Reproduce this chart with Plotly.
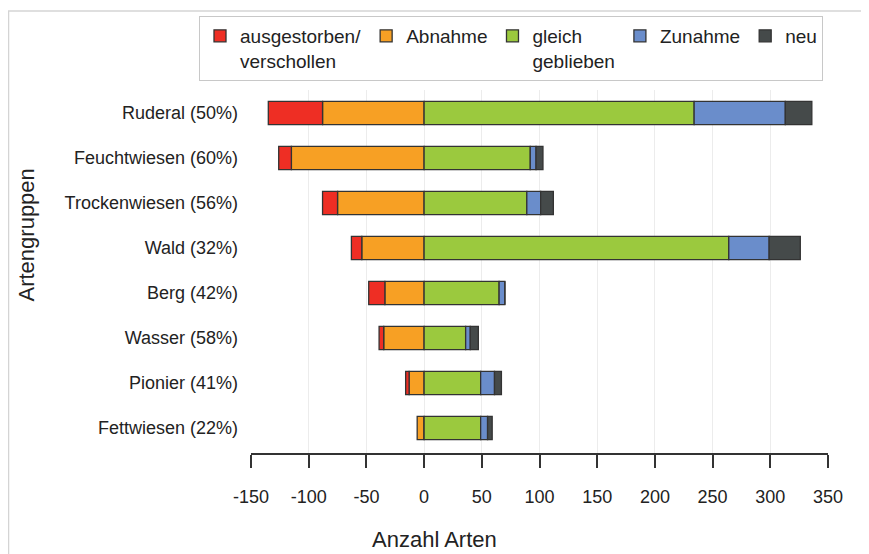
import plotly.graph_objects as go

# Data (top to bottom as shown)
categories = ["Ruderal (50%)", "Feuchtwiesen (60%)", "Trockenwiesen (56%)", "Wald (32%)",
              "Berg (42%)", "Wasser (58%)", "Pionier (41%)", "Fettwiesen (22%)"]
ausgestorben = [47, 11, 13, 9, 14, 4, 3, 0]
abnahme = [88, 115, 75, 54, 34, 35, 13, 6]
gleich = [234, 92, 89, 264, 65, 36, 49, 49]
zunahme = [79, 5, 12, 35, 5, 4, 12, 6]
neu = [23, 6, 11, 27, 0, 7, 6, 4]
x_ticks = [-150, -100, -50, 0, 50, 100, 150, 200, 250, 300, 350]

FONT = "Liberation Sans, Arial, sans-serif"
LINE = dict(color="#333333", width=1.3)

fig = go.Figure()
# order of traces: the one nearest zero first (relative stacking)
fig.add_trace(go.Bar(y=categories, x=[-v for v in abnahme], name="Abnahme", orientation="h",
                     marker=dict(color="#F7A024", line=LINE), legendrank=2))
fig.add_trace(go.Bar(y=categories, x=[-v for v in ausgestorben], name="ausgestorben/<br>verschollen",
                     orientation="h", marker=dict(color="#EE2E24", line=LINE), legendrank=1))
fig.add_trace(go.Bar(y=categories, x=gleich, name="gleich<br>geblieben", orientation="h",
                     marker=dict(color="#9BC93E", line=LINE), legendrank=3))
fig.add_trace(go.Bar(y=categories, x=zunahme, name="Zunahme", orientation="h",
                     marker=dict(color="#6A8DCB", line=LINE), legendrank=4))
fig.add_trace(go.Bar(y=categories, x=neu, name="neu", orientation="h",
                     marker=dict(color="#454A4A", line=LINE), legendrank=5))

# figure coordinates (page body margin offsets the figure by 8px)
OFF = 8
W, H = 869 - OFF, 554 - OFF
L, R, T, B = 251 - OFF, 828 - OFF, 90 - OFF, 453 - OFF


def px(xs):
    return (xs - OFF - L) / (R - L)


def py(ys):
    return (B - (ys - OFF)) / (B - T)


fig.update_layout(
    width=W, height=H,
    margin=dict(l=L, r=W - R, t=T, b=H - B, pad=0, autoexpand=False),
    barmode="relative",
    bargap=0.48,
    plot_bgcolor="white", paper_bgcolor="white",
    font=dict(family=FONT, size=18, color="#222222"),
    showlegend=True,
    legend=dict(orientation="h", x=px(199), xanchor="left",
                y=py(16), yanchor="top",
                bordercolor="#c8c8c8", borderwidth=1, bgcolor="white",
                font=dict(family=FONT, size=19, color="#222222"),
                valign="top", traceorder="normal"),
    xaxis=dict(range=[-150, 350], tickvals=x_ticks, ticktext=[str(v) for v in x_ticks],
               showgrid=True, gridcolor="#ececec", gridwidth=1, zeroline=False,
               showline=True, linecolor="#333333", linewidth=1.5,
               ticks="outside", ticklen=13, tickwidth=1.5, tickcolor="#333333",
               ticklabelstandoff=14, tickfont=dict(size=18, family=FONT, color="#222222"),
               fixedrange=True, automargin=False),
    yaxis=dict(categoryorder="array", categoryarray=categories[::-1],
               range=[-0.556, 7.511], showgrid=False, zeroline=False, showline=False,
               ticks="", ticklabelstandoff=12, automargin=False,
               tickfont=dict(size=18, family=FONT, color="#222222")),
    annotations=[
        dict(text="Anzahl Arten", x=px(434), y=py(539.5),
             xref="paper", yref="paper", showarrow=False, xanchor="center", yanchor="middle",
             font=dict(size=22, family=FONT, color="#222222")),
        dict(text="Artengruppen", x=px(25.5), y=py(235),
             xref="paper", yref="paper", showarrow=False, xanchor="center", yanchor="middle",
             textangle=-90, font=dict(size=22, family=FONT, color="#222222")),
    ],
    shapes=[
        dict(type="line", xref="paper", yref="paper",
             x0=px(8), x1=px(880), y0=py(11), y1=py(11),
             line=dict(color="#d4d4d4", width=1.5)),
        dict(type="line", xref="paper", yref="paper",
             x0=px(8.5), x1=px(8.5), y0=py(11), y1=py(560),
             line=dict(color="#d4d4d4", width=1.5)),
    ],
)

fig.write_html("out.html")
